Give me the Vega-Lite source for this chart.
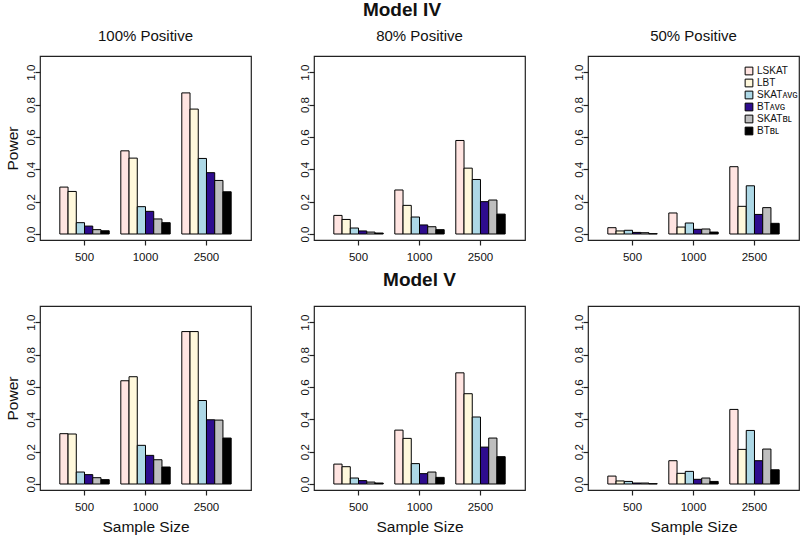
{
  "$schema": "https://vega.github.io/schema/vega-lite/v6.json",
  "padding": {"left": 4, "top": 0, "right": 0, "bottom": 0},
  "background": "white",
  "title": {"text": "Model IV", "fontSize": 19, "fontWeight": "bold", "offset": 8.5},
  "config": {
    "font": "Liberation Sans",
    "view": {"stroke": "#222", "strokeWidth": 1.2},
    "axis": {"domain": false, "grid": false, "tickSize": 5, "tickColor": "#222", "tickWidth": 1.2, "labelFont": "Liberation Sans", "labelFontSize": 11.5, "labelColor": "#111", "titleFont": "Liberation Sans", "titleFontSize": 15.5, "titleFontWeight": "normal", "titleColor": "#111"},
    "title": {"font": "Liberation Sans", "fontSize": 15, "fontWeight": "normal", "color": "#111", "anchor": "middle", "baseline": "alphabetic", "offset": 12}
  },
  "data": {"values": [
    {"m":"IV","p":"100%","n":"500","t":"LSKAT","v":0.29},{"m":"IV","p":"100%","n":"500","t":"LBT","v":0.263},{"m":"IV","p":"100%","n":"500","t":"SKAT_AVG","v":0.07},{"m":"IV","p":"100%","n":"500","t":"BT_AVG","v":0.049},{"m":"IV","p":"100%","n":"500","t":"SKAT_BL","v":0.027},{"m":"IV","p":"100%","n":"500","t":"BT_BL","v":0.02},
    {"m":"IV","p":"100%","n":"1000","t":"LSKAT","v":0.514},{"m":"IV","p":"100%","n":"1000","t":"LBT","v":0.469},{"m":"IV","p":"100%","n":"1000","t":"SKAT_AVG","v":0.169},{"m":"IV","p":"100%","n":"1000","t":"BT_AVG","v":0.14},{"m":"IV","p":"100%","n":"1000","t":"SKAT_BL","v":0.093},{"m":"IV","p":"100%","n":"1000","t":"BT_BL","v":0.07},
    {"m":"IV","p":"100%","n":"2500","t":"LSKAT","v":0.872},{"m":"IV","p":"100%","n":"2500","t":"LBT","v":0.772},{"m":"IV","p":"100%","n":"2500","t":"SKAT_AVG","v":0.467},{"m":"IV","p":"100%","n":"2500","t":"BT_AVG","v":0.379},{"m":"IV","p":"100%","n":"2500","t":"SKAT_BL","v":0.331},{"m":"IV","p":"100%","n":"2500","t":"BT_BL","v":0.261},
    {"m":"IV","p":"80%","n":"500","t":"LSKAT","v":0.115},{"m":"IV","p":"80%","n":"500","t":"LBT","v":0.09},{"m":"IV","p":"80%","n":"500","t":"SKAT_AVG","v":0.037},{"m":"IV","p":"80%","n":"500","t":"BT_AVG","v":0.019},{"m":"IV","p":"80%","n":"500","t":"SKAT_BL","v":0.012},{"m":"IV","p":"80%","n":"500","t":"BT_BL","v":0.006},
    {"m":"IV","p":"80%","n":"1000","t":"LSKAT","v":0.272},{"m":"IV","p":"80%","n":"1000","t":"LBT","v":0.177},{"m":"IV","p":"80%","n":"1000","t":"SKAT_AVG","v":0.105},{"m":"IV","p":"80%","n":"1000","t":"BT_AVG","v":0.056},{"m":"IV","p":"80%","n":"1000","t":"SKAT_BL","v":0.045},{"m":"IV","p":"80%","n":"1000","t":"BT_BL","v":0.027},
    {"m":"IV","p":"80%","n":"2500","t":"LSKAT","v":0.578},{"m":"IV","p":"80%","n":"2500","t":"LBT","v":0.407},{"m":"IV","p":"80%","n":"2500","t":"SKAT_AVG","v":0.337},{"m":"IV","p":"80%","n":"2500","t":"BT_AVG","v":0.2},{"m":"IV","p":"80%","n":"2500","t":"SKAT_BL","v":0.21},{"m":"IV","p":"80%","n":"2500","t":"BT_BL","v":0.123},
    {"m":"IV","p":"50%","n":"500","t":"LSKAT","v":0.039},{"m":"IV","p":"50%","n":"500","t":"LBT","v":0.019},{"m":"IV","p":"50%","n":"500","t":"SKAT_AVG","v":0.023},{"m":"IV","p":"50%","n":"500","t":"BT_AVG","v":0.01},{"m":"IV","p":"50%","n":"500","t":"SKAT_BL","v":0.008},{"m":"IV","p":"50%","n":"500","t":"BT_BL","v":0.002},
    {"m":"IV","p":"50%","n":"1000","t":"LSKAT","v":0.13},{"m":"IV","p":"50%","n":"1000","t":"LBT","v":0.043},{"m":"IV","p":"50%","n":"1000","t":"SKAT_AVG","v":0.068},{"m":"IV","p":"50%","n":"1000","t":"BT_AVG","v":0.029},{"m":"IV","p":"50%","n":"1000","t":"SKAT_BL","v":0.031},{"m":"IV","p":"50%","n":"1000","t":"BT_BL","v":0.012},
    {"m":"IV","p":"50%","n":"2500","t":"LSKAT","v":0.416},{"m":"IV","p":"50%","n":"2500","t":"LBT","v":0.171},{"m":"IV","p":"50%","n":"2500","t":"SKAT_AVG","v":0.298},{"m":"IV","p":"50%","n":"2500","t":"BT_AVG","v":0.121},{"m":"IV","p":"50%","n":"2500","t":"SKAT_BL","v":0.163},{"m":"IV","p":"50%","n":"2500","t":"BT_BL","v":0.066},
    {"m":"V","p":"100%","n":"500","t":"LSKAT","v":0.311},{"m":"V","p":"100%","n":"500","t":"LBT","v":0.309},{"m":"V","p":"100%","n":"500","t":"SKAT_AVG","v":0.074},{"m":"V","p":"100%","n":"500","t":"BT_AVG","v":0.058},{"m":"V","p":"100%","n":"500","t":"SKAT_BL","v":0.039},{"m":"V","p":"100%","n":"500","t":"BT_BL","v":0.027},
    {"m":"V","p":"100%","n":"1000","t":"LSKAT","v":0.638},{"m":"V","p":"100%","n":"1000","t":"LBT","v":0.663},{"m":"V","p":"100%","n":"1000","t":"SKAT_AVG","v":0.239},{"m":"V","p":"100%","n":"1000","t":"BT_AVG","v":0.177},{"m":"V","p":"100%","n":"1000","t":"SKAT_BL","v":0.15},{"m":"V","p":"100%","n":"1000","t":"BT_BL","v":0.105},
    {"m":"V","p":"100%","n":"2500","t":"LSKAT","v":0.942},{"m":"V","p":"100%","n":"2500","t":"LBT","v":0.942},{"m":"V","p":"100%","n":"2500","t":"SKAT_AVG","v":0.516},{"m":"V","p":"100%","n":"2500","t":"BT_AVG","v":0.397},{"m":"V","p":"100%","n":"2500","t":"SKAT_BL","v":0.395},{"m":"V","p":"100%","n":"2500","t":"BT_BL","v":0.284},
    {"m":"V","p":"80%","n":"500","t":"LSKAT","v":0.123},{"m":"V","p":"80%","n":"500","t":"LBT","v":0.107},{"m":"V","p":"80%","n":"500","t":"SKAT_AVG","v":0.037},{"m":"V","p":"80%","n":"500","t":"BT_AVG","v":0.021},{"m":"V","p":"80%","n":"500","t":"SKAT_BL","v":0.012},{"m":"V","p":"80%","n":"500","t":"BT_BL","v":0.006},
    {"m":"V","p":"80%","n":"1000","t":"LSKAT","v":0.333},{"m":"V","p":"80%","n":"1000","t":"LBT","v":0.282},{"m":"V","p":"80%","n":"1000","t":"SKAT_AVG","v":0.126},{"m":"V","p":"80%","n":"1000","t":"BT_AVG","v":0.064},{"m":"V","p":"80%","n":"1000","t":"SKAT_BL","v":0.074},{"m":"V","p":"80%","n":"1000","t":"BT_BL","v":0.041},
    {"m":"V","p":"80%","n":"2500","t":"LSKAT","v":0.687},{"m":"V","p":"80%","n":"2500","t":"LBT","v":0.558},{"m":"V","p":"80%","n":"2500","t":"SKAT_AVG","v":0.414},{"m":"V","p":"80%","n":"2500","t":"BT_AVG","v":0.228},{"m":"V","p":"80%","n":"2500","t":"SKAT_BL","v":0.284},{"m":"V","p":"80%","n":"2500","t":"BT_BL","v":0.169},
    {"m":"V","p":"50%","n":"500","t":"LSKAT","v":0.049},{"m":"V","p":"50%","n":"500","t":"LBT","v":0.019},{"m":"V","p":"50%","n":"500","t":"SKAT_AVG","v":0.016},{"m":"V","p":"50%","n":"500","t":"BT_AVG","v":0.006},{"m":"V","p":"50%","n":"500","t":"SKAT_BL","v":0.006},{"m":"V","p":"50%","n":"500","t":"BT_BL","v":0.002},
    {"m":"V","p":"50%","n":"1000","t":"LSKAT","v":0.144},{"m":"V","p":"50%","n":"1000","t":"LBT","v":0.066},{"m":"V","p":"50%","n":"1000","t":"SKAT_AVG","v":0.078},{"m":"V","p":"50%","n":"1000","t":"BT_AVG","v":0.029},{"m":"V","p":"50%","n":"1000","t":"SKAT_BL","v":0.037},{"m":"V","p":"50%","n":"1000","t":"BT_BL","v":0.016},
    {"m":"V","p":"50%","n":"2500","t":"LSKAT","v":0.461},{"m":"V","p":"50%","n":"2500","t":"LBT","v":0.214},{"m":"V","p":"50%","n":"2500","t":"SKAT_AVG","v":0.331},{"m":"V","p":"50%","n":"2500","t":"BT_AVG","v":0.144},{"m":"V","p":"50%","n":"2500","t":"SKAT_BL","v":0.216},{"m":"V","p":"50%","n":"2500","t":"BT_BL","v":0.088}
  ]},
  "bounds": "flush",
  "columns": 3,
  "spacing": {"row": 66, "column": 63},
  "resolve": {"scale": {"color": "independent"}, "legend": {"color": "independent"}},
  "concat": [
    {
      "width": 211, "height": 184,
      "title": {"text": "100% Positive"},
      "transform": [{"filter": "datum.m === 'IV' && datum.p === '100%'"}],
      "mark": {"type": "bar", "stroke": "black", "strokeWidth": 1},
      "encoding": {
        "x": {"field": "n", "type": "nominal", "sort": ["500", "1000", "2500"], "scale": {"paddingInner": 0.19, "paddingOuter": 0.325}, "axis": {"title": null, "labelAngle": 0, "labelBaseline": "alphabetic", "labelPadding": 15.7}},
        "xOffset": {"field": "t", "type": "nominal", "sort": ["LSKAT", "LBT", "SKAT_AVG", "BT_AVG", "SKAT_BL", "BT_BL"], "scale": {"paddingInner": 0, "paddingOuter": 0}},
        "y": {"field": "v", "type": "quantitative", "stack": null, "scale": {"domain": [-0.037, 1.1], "nice": false, "zero": false}, "axis": {"title": "Power", "values": [0, 0.2, 0.4, 0.6, 0.8, 1], "format": ".1f", "labelAngle": 270, "labelAlign": "center", "labelBaseline": "alphabetic", "labelPadding": 1, "titleBaseline": "alphabetic", "titlePadding": 8}},
        "y2": {"datum": 0},
        "color": {"field": "t", "type": "nominal", "scale": {"domain": ["LSKAT", "LBT", "SKAT_AVG", "BT_AVG", "SKAT_BL", "BT_BL"], "range": ["#FFE4E1", "#FFF8DC", "#ADD8E6", "#2E0C8E", "#BEBEBE", "#000000"]}, "legend": null}
      }
    },
    {
      "width": 211, "height": 184,
      "title": {"text": "80% Positive"},
      "transform": [{"filter": "datum.m === 'IV' && datum.p === '80%'"}],
      "mark": {"type": "bar", "stroke": "black", "strokeWidth": 1},
      "encoding": {
        "x": {"field": "n", "type": "nominal", "sort": ["500", "1000", "2500"], "scale": {"paddingInner": 0.19, "paddingOuter": 0.325}, "axis": {"title": null, "labelAngle": 0, "labelBaseline": "alphabetic", "labelPadding": 15.7}},
        "xOffset": {"field": "t", "type": "nominal", "sort": ["LSKAT", "LBT", "SKAT_AVG", "BT_AVG", "SKAT_BL", "BT_BL"], "scale": {"paddingInner": 0, "paddingOuter": 0}},
        "y": {"field": "v", "type": "quantitative", "stack": null, "scale": {"domain": [-0.037, 1.1], "nice": false, "zero": false}, "axis": {"title": null, "values": [0, 0.2, 0.4, 0.6, 0.8, 1], "format": ".1f", "labelAngle": 270, "labelAlign": "center", "labelBaseline": "alphabetic", "labelPadding": 1}},
        "y2": {"datum": 0},
        "color": {"field": "t", "type": "nominal", "scale": {"domain": ["LSKAT", "LBT", "SKAT_AVG", "BT_AVG", "SKAT_BL", "BT_BL"], "range": ["#FFE4E1", "#FFF8DC", "#ADD8E6", "#2E0C8E", "#BEBEBE", "#000000"]}, "legend": null}
      }
    },
    {
      "width": 211, "height": 184,
      "title": {"text": "50% Positive"},
      "transform": [{"filter": "datum.m === 'IV' && datum.p === '50%'"}],
      "mark": {"type": "bar", "stroke": "black", "strokeWidth": 1},
      "encoding": {
        "x": {"field": "n", "type": "nominal", "sort": ["500", "1000", "2500"], "scale": {"paddingInner": 0.19, "paddingOuter": 0.325}, "axis": {"title": null, "labelAngle": 0, "labelBaseline": "alphabetic", "labelPadding": 15.7}},
        "xOffset": {"field": "t", "type": "nominal", "sort": ["LSKAT", "LBT", "SKAT_AVG", "BT_AVG", "SKAT_BL", "BT_BL"], "scale": {"paddingInner": 0, "paddingOuter": 0}},
        "y": {"field": "v", "type": "quantitative", "stack": null, "scale": {"domain": [-0.037, 1.1], "nice": false, "zero": false}, "axis": {"title": null, "values": [0, 0.2, 0.4, 0.6, 0.8, 1], "format": ".1f", "labelAngle": 270, "labelAlign": "center", "labelBaseline": "alphabetic", "labelPadding": 1}},
        "y2": {"datum": 0},
        "color": {"field": "t", "type": "nominal", "scale": {"domain": ["LSKAT", "LBT", "SKAT_AVG", "BT_AVG", "SKAT_BL", "BT_BL"], "range": ["#FFE4E1", "#FFF8DC", "#ADD8E6", "#2E0C8E", "#BEBEBE", "#000000"]},
          "legend": {"orient": "none", "legendX": 156, "legendY": 10, "padding": 0, "title": null, "symbolType": "square", "symbolSize": 60, "symbolStrokeColor": "black", "symbolStrokeWidth": 1, "labelFont": "Liberation Sans", "labelFontSize": 10, "labelColor": "#111", "labelOffset": 3, "rowPadding": 0, "labelExpr": "replace(replace(datum.label, '_AVG', 'ᴀᴠɢ'), '_BL', 'ʙʟ')"}}
      }
    },
    {
      "width": 211, "height": 184,
      "transform": [{"filter": "datum.m === 'V' && datum.p === '100%'"}],
      "mark": {"type": "bar", "stroke": "black", "strokeWidth": 1},
      "encoding": {
        "x": {"field": "n", "type": "nominal", "sort": ["500", "1000", "2500"], "scale": {"paddingInner": 0.19, "paddingOuter": 0.325}, "axis": {"title": "Sample Size", "labelAngle": 0, "labelBaseline": "alphabetic", "labelPadding": 15.7, "titleBaseline": "alphabetic", "titlePadding": 18}},
        "xOffset": {"field": "t", "type": "nominal", "sort": ["LSKAT", "LBT", "SKAT_AVG", "BT_AVG", "SKAT_BL", "BT_BL"], "scale": {"paddingInner": 0, "paddingOuter": 0}},
        "y": {"field": "v", "type": "quantitative", "stack": null, "scale": {"domain": [-0.037, 1.1], "nice": false, "zero": false}, "axis": {"title": "Power", "values": [0, 0.2, 0.4, 0.6, 0.8, 1], "format": ".1f", "labelAngle": 270, "labelAlign": "center", "labelBaseline": "alphabetic", "labelPadding": 1, "titleBaseline": "alphabetic", "titlePadding": 8}},
        "y2": {"datum": 0},
        "color": {"field": "t", "type": "nominal", "scale": {"domain": ["LSKAT", "LBT", "SKAT_AVG", "BT_AVG", "SKAT_BL", "BT_BL"], "range": ["#FFE4E1", "#FFF8DC", "#ADD8E6", "#2E0C8E", "#BEBEBE", "#000000"]}, "legend": null}
      }
    },
    {
      "width": 211, "height": 184,
      "title": {"text": "Model V", "fontSize": 19, "fontWeight": "bold", "offset": 15.7},
      "transform": [{"filter": "datum.m === 'V' && datum.p === '80%'"}],
      "mark": {"type": "bar", "stroke": "black", "strokeWidth": 1},
      "encoding": {
        "x": {"field": "n", "type": "nominal", "sort": ["500", "1000", "2500"], "scale": {"paddingInner": 0.19, "paddingOuter": 0.325}, "axis": {"title": "Sample Size", "labelAngle": 0, "labelBaseline": "alphabetic", "labelPadding": 15.7, "titleBaseline": "alphabetic", "titlePadding": 18}},
        "xOffset": {"field": "t", "type": "nominal", "sort": ["LSKAT", "LBT", "SKAT_AVG", "BT_AVG", "SKAT_BL", "BT_BL"], "scale": {"paddingInner": 0, "paddingOuter": 0}},
        "y": {"field": "v", "type": "quantitative", "stack": null, "scale": {"domain": [-0.037, 1.1], "nice": false, "zero": false}, "axis": {"title": null, "values": [0, 0.2, 0.4, 0.6, 0.8, 1], "format": ".1f", "labelAngle": 270, "labelAlign": "center", "labelBaseline": "alphabetic", "labelPadding": 1}},
        "y2": {"datum": 0},
        "color": {"field": "t", "type": "nominal", "scale": {"domain": ["LSKAT", "LBT", "SKAT_AVG", "BT_AVG", "SKAT_BL", "BT_BL"], "range": ["#FFE4E1", "#FFF8DC", "#ADD8E6", "#2E0C8E", "#BEBEBE", "#000000"]}, "legend": null}
      }
    },
    {
      "width": 211, "height": 184,
      "transform": [{"filter": "datum.m === 'V' && datum.p === '50%'"}],
      "mark": {"type": "bar", "stroke": "black", "strokeWidth": 1},
      "encoding": {
        "x": {"field": "n", "type": "nominal", "sort": ["500", "1000", "2500"], "scale": {"paddingInner": 0.19, "paddingOuter": 0.325}, "axis": {"title": "Sample Size", "labelAngle": 0, "labelBaseline": "alphabetic", "labelPadding": 15.7, "titleBaseline": "alphabetic", "titlePadding": 18}},
        "xOffset": {"field": "t", "type": "nominal", "sort": ["LSKAT", "LBT", "SKAT_AVG", "BT_AVG", "SKAT_BL", "BT_BL"], "scale": {"paddingInner": 0, "paddingOuter": 0}},
        "y": {"field": "v", "type": "quantitative", "stack": null, "scale": {"domain": [-0.037, 1.1], "nice": false, "zero": false}, "axis": {"title": null, "values": [0, 0.2, 0.4, 0.6, 0.8, 1], "format": ".1f", "labelAngle": 270, "labelAlign": "center", "labelBaseline": "alphabetic", "labelPadding": 1}},
        "y2": {"datum": 0},
        "color": {"field": "t", "type": "nominal", "scale": {"domain": ["LSKAT", "LBT", "SKAT_AVG", "BT_AVG", "SKAT_BL", "BT_BL"], "range": ["#FFE4E1", "#FFF8DC", "#ADD8E6", "#2E0C8E", "#BEBEBE", "#000000"]}, "legend": null}
      }
    }
  ]
}
